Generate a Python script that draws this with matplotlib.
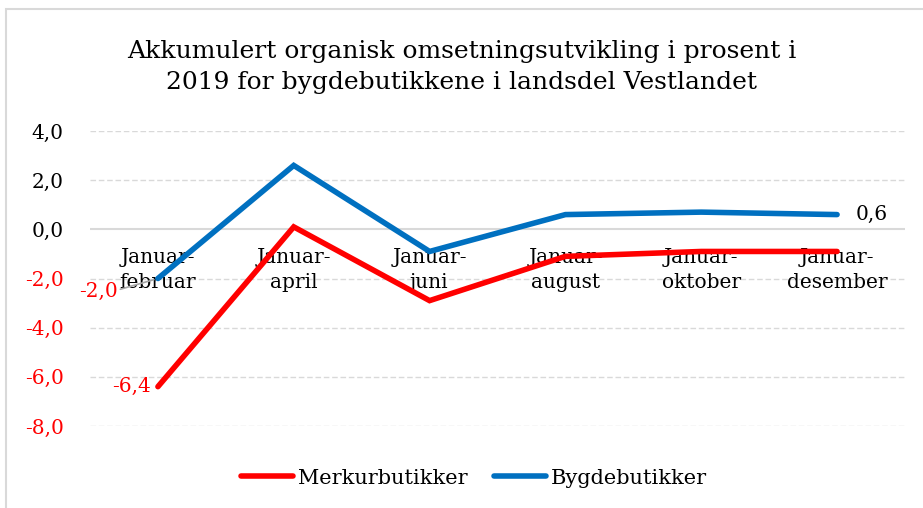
import numpy as np
import matplotlib
matplotlib.use('Agg')
import matplotlib.pyplot as plt
from matplotlib.patches import Rectangle

# Data
perioder = ['Januar-\nfebruar', 'Januar-\napril', 'Januar-\njuni',
            'Januar-\naugust', 'Januar-\noktober', 'Januar-\ndesember']
merkur = [-6.4, 0.1, -2.9, -1.1, -0.9, -0.9]
bygde = [-2.0, 2.6, -0.9, 0.6, 0.7, 0.6]
yticks = [4, 2, 0, -2, -4, -6, -8]

RED = '#ff0000'
BLUE = '#0070c0'
GRID = '#d9d9d9'

plt.rcParams['font.family'] = ['DejaVu Serif', 'Liberation Serif']

fig = plt.figure(figsize=(9.23, 5.08), dpi=100)
ax = fig.add_axes([90 / 923, 1 - 426 / 508, 815 / 923, 295 / 508])

# outer chart border (only top/left visible in the crop)
fig.patches.append(Rectangle((6 / 923, -0.1), 1.2, 1 - 9 / 508 + 0.1,
                             transform=fig.transFigure, fill=False,
                             edgecolor=GRID, linewidth=1.5))

x = np.arange(len(perioder))
ax.plot(x, merkur, color=RED, lw=4, solid_capstyle='round',
        solid_joinstyle='miter', label='Merkurbutikker', zorder=3)
ax.plot(x, bygde, color=BLUE, lw=4, solid_capstyle='round',
        solid_joinstyle='miter', label='Bygdebutikker', zorder=3)

ax.set_xlim(-0.5, len(perioder) - 0.5)
ax.set_ylim(-8, 4)
ax.set_yticks(yticks)
ax.set_yticklabels([f'{v:.1f}'.replace('.', ',') for v in yticks])
for lbl, v in zip(ax.get_yticklabels(), yticks):
    lbl.set_color(RED if v < 0 else 'black')
ax.tick_params(axis='y', length=0, labelsize=14.5, pad=19)
ax.set_xticks([])

for v in yticks:
    if v == 0:
        ax.axhline(v, color=GRID, lw=1.5, zorder=1)
    else:
        ax.axhline(v, color=GRID, lw=1, ls=(0, (4, 2)), zorder=1)
for s in ax.spines.values():
    s.set_visible(False)

# category labels sit just under the zero line
for i, p in enumerate(perioder):
    ax.text(i, -0.75, p, ha='center', va='top', fontsize=14.5,
            linespacing=1.4, zorder=2)

# data labels
ax.annotate('-6,4', (0, merkur[0]), xytext=(-19, 0), textcoords='offset points',
            ha='center', va='center', color=RED, fontsize=14.5)
ax.annotate('-2,0', (0, bygde[0]), xytext=(-43, -9), textcoords='offset points',
            ha='center', va='center', color=RED, fontsize=14.5, zorder=4,
            arrowprops=dict(arrowstyle='-', color='#a6a6a6', lw=1.2,
                            shrinkA=0, shrinkB=3, relpos=(1.0, 0.55)))
ax.annotate('0,6', (5, bygde[5]), xytext=(25, 0), textcoords='offset points',
            ha='center', va='center', color='black', fontsize=14.5)

fig.text(0.5, 1 - 67 / 508, 'Akkumulert organisk omsetningsutvikling i prosent i\n'
         '2019 for bygdebutikkene i landsdel Vestlandet',
         ha='center', va='center', fontsize=18, linespacing=1.45)

fig.legend(loc='center', bbox_to_anchor=(474 / 923, 1 - 478 / 508), ncol=2,
           frameon=False, fontsize=15, handlelength=2.5, handletextpad=0.2,
           columnspacing=1.3)

fig.savefig('out.png', dpi=100)
